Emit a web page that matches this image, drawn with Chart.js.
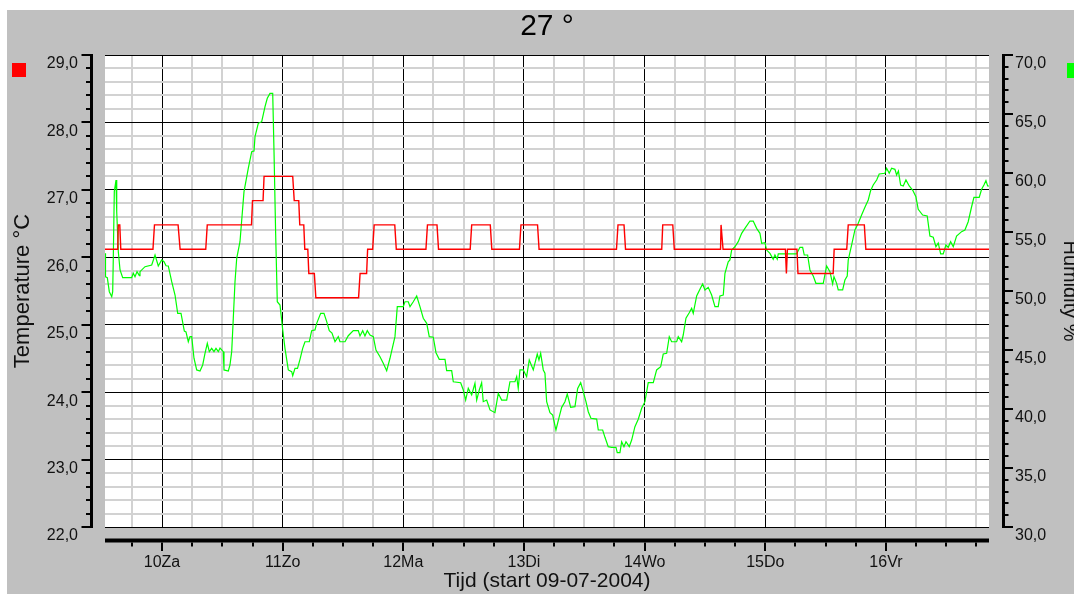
<!DOCTYPE html>
<html>
<head>
<meta charset="utf-8">
<title>27 °</title>
<script src="https://cdn.jsdelivr.net/npm/chart.js@4.4.0/dist/chart.umd.min.js"></script>
<style>
  html, body { margin: 0; padding: 0; background: #fff; }
  canvas { display: block; }
</style>
</head>
<body>
<canvas id="chart" width="1074" height="594"></canvas>
<script>
// time in hours counted from 09-07-2004 00:00
const dayLabels = ['10Za', '11Zo', '12Ma', '13Di', '14Wo', '15Do', '16Vr'];
const timeRange = [12.66, 188.5];
const tempRange = [22, 29];
const humRange = [30, 70];

// [hour, °C]
const temperature = [
  [12.66, 26.12], [15.2, 26.12], [15.3, 26.48], [15.6, 26.48], [15.8, 26.12], [22.2, 26.12], [22.5, 26.48],
  [27.2, 26.48], [27.6, 26.12], [32.7, 26.12], [33.0, 26.48], [41.8, 26.48], [42.0, 26.84], [44.1, 26.84],
  [44.3, 27.2], [50.0, 27.2], [50.3, 26.84], [51.2, 26.84], [51.4, 26.48], [52.2, 26.48], [52.4, 26.12],
  [53.0, 26.12], [53.2, 25.76], [54.3, 25.76], [54.6, 25.4], [63.1, 25.4], [63.4, 25.76], [64.7, 25.76],
  [64.9, 26.12], [65.9, 26.12], [66.2, 26.48], [70.3, 26.48], [70.6, 26.12], [76.5, 26.12], [76.8, 26.48],
  [78.7, 26.48], [79.0, 26.12], [85.3, 26.12], [85.6, 26.48], [89.3, 26.48], [89.6, 26.12], [95.1, 26.12],
  [95.4, 26.48], [98.7, 26.48], [99.0, 26.12], [114.4, 26.12], [114.7, 26.48], [115.9, 26.48], [116.2, 26.12],
  [123.4, 26.12], [123.6, 26.48], [125.6, 26.48], [125.9, 26.12], [135.1, 26.12], [135.2, 26.48], [135.6, 26.12],
  [148.0, 26.12], [148.2, 25.76], [148.4, 26.12], [150.3, 26.12], [150.5, 25.76], [157.5, 25.76], [157.7, 26.12],
  [160.2, 26.12], [160.5, 26.48], [163.7, 26.48], [164.0, 26.12], [188.5, 26.12]
];

// [hour, %]
const humidity = [
  [12.66, 53.19], [12.76, 51.21], [13.12, 51.13], [13.52, 49.94], [14.00, 49.52], [14.19, 49.94], [14.31, 52.77],
  [14.51, 58.42], [14.85, 59.41], [14.99, 56.72], [15.31, 53.33], [15.65, 51.78], [16.18, 51.13], [17.97, 51.13],
  [18.29, 51.50], [18.63, 51.21], [19.03, 51.64], [19.49, 51.30], [19.62, 51.64], [20.62, 52.06], [21.95, 52.20],
  [22.61, 53.05], [23.26, 52.12], [23.94, 52.63], [24.40, 52.48], [24.80, 52.14], [25.25, 52.12], [25.93, 50.79],
  [26.59, 49.66], [27.12, 48.11], [27.78, 48.11], [28.44, 46.61], [28.77, 46.53], [29.23, 45.70], [29.57, 46.13],
  [29.91, 46.13], [30.36, 44.30], [30.90, 43.31], [31.56, 43.22], [32.09, 43.73], [32.55, 44.72], [33.01, 45.57],
  [33.41, 44.86], [33.88, 45.14], [34.34, 44.86], [34.74, 45.14], [35.20, 44.86], [35.54, 45.17], [36.19, 44.86],
  [36.33, 43.31], [37.19, 43.22], [37.52, 43.73], [37.86, 44.86], [38.18, 47.69], [38.52, 50.79], [38.86, 52.77],
  [39.51, 54.18], [40.31, 58.42], [41.16, 60.40], [41.84, 61.81], [42.30, 61.86], [42.50, 63.08], [43.15, 64.21],
  [43.83, 64.35], [44.49, 65.62], [44.94, 66.33], [45.48, 66.75], [46.02, 66.75], [46.28, 61.81], [46.61, 54.75],
  [46.93, 49.09], [47.47, 48.81], [48.01, 46.70], [48.46, 45.14], [49.12, 43.31], [49.80, 43.16], [50.00, 42.82],
  [50.45, 43.45], [50.95, 43.45], [51.45, 44.21], [51.98, 45.14], [52.44, 45.70], [53.30, 45.70], [53.77, 46.64],
  [54.43, 46.70], [54.77, 47.26], [55.56, 48.11], [56.22, 48.11], [56.76, 47.40], [57.27, 46.64], [57.81, 46.44],
  [58.41, 45.70], [59.06, 46.13], [59.40, 45.70], [60.40, 45.70], [61.05, 46.21], [62.05, 46.64], [63.04, 46.64],
  [63.38, 46.19], [63.92, 46.64], [64.37, 46.19], [64.83, 46.64], [65.37, 46.27], [66.03, 46.13], [66.56, 45.00],
  [67.36, 44.43], [68.01, 43.87], [68.69, 43.25], [69.35, 44.30], [70.34, 46.13], [70.80, 48.67], [71.99, 48.67],
  [72.33, 49.09], [72.99, 49.09], [73.33, 48.67], [73.98, 49.09], [74.66, 49.58], [75.31, 48.67], [75.97, 47.69],
  [76.65, 47.26], [77.16, 46.13], [77.96, 46.08], [78.50, 44.77], [79.15, 44.21], [80.29, 44.21], [80.62, 43.25],
  [81.62, 43.25], [81.94, 42.31], [83.41, 42.23], [83.93, 41.61], [84.40, 40.76], [84.92, 41.75], [85.60, 41.19],
  [86.25, 42.18], [86.59, 40.76], [87.11, 41.61], [87.58, 42.23], [87.90, 40.62], [88.58, 40.76], [89.24, 39.92],
  [90.23, 39.69], [90.89, 41.33], [91.56, 40.76], [92.56, 40.76], [93.21, 42.31], [94.21, 42.31], [94.55, 42.74],
  [94.86, 41.75], [95.20, 43.31], [95.86, 43.31], [96.53, 42.74], [97.05, 44.15], [97.85, 43.31], [98.64, 44.66],
  [98.98, 44.15], [99.32, 44.72], [99.84, 43.31], [100.17, 43.03], [100.51, 40.62], [101.17, 39.69], [101.71, 39.49],
  [102.36, 38.22], [103.02, 39.35], [103.50, 40.14], [104.15, 40.62], [104.61, 41.27], [105.29, 40.14], [106.14, 40.20],
  [106.68, 41.75], [107.28, 42.23], [107.79, 41.47], [108.33, 40.62], [108.79, 39.77], [109.32, 39.21], [110.46, 39.15],
  [110.78, 38.22], [111.65, 38.22], [112.11, 37.60], [112.76, 36.81], [113.44, 36.75], [114.30, 36.75], [114.55, 36.30],
  [115.09, 36.30], [115.43, 37.23], [115.89, 36.81], [116.29, 37.23], [116.94, 36.81], [117.42, 37.37], [118.07, 38.50],
  [118.73, 39.13], [119.41, 40.06], [120.06, 40.62], [120.72, 42.23], [121.72, 42.23], [122.39, 43.31], [123.19, 43.58],
  [123.70, 44.66], [124.38, 44.72], [124.90, 46.13], [125.37, 45.70], [126.37, 45.70], [126.69, 46.13], [127.36, 45.70],
  [127.68, 46.27], [128.22, 47.69], [128.87, 48.16], [129.35, 48.53], [129.67, 48.11], [130.35, 49.58], [131.00, 50.14],
  [131.54, 50.59], [132.00, 50.09], [132.65, 50.31], [133.33, 49.66], [133.99, 48.67], [134.64, 48.67], [134.98, 49.58],
  [135.64, 49.66], [135.98, 51.50], [136.63, 52.48], [136.97, 52.63], [137.31, 53.47], [137.96, 53.75], [138.62, 54.18],
  [139.30, 54.89], [139.95, 55.31], [140.95, 55.93], [141.60, 55.93], [142.28, 55.31], [142.94, 54.89], [143.28, 54.04],
  [143.93, 54.09], [144.27, 53.47], [144.93, 53.19], [145.58, 52.69], [145.92, 53.05], [146.38, 52.69], [146.58, 53.14],
  [150.23, 53.14], [150.89, 53.70], [151.43, 53.70], [151.75, 53.05], [152.42, 53.05], [152.88, 51.78], [153.54, 51.27],
  [154.07, 50.65], [155.53, 50.65], [156.20, 52.12], [156.86, 51.64], [157.40, 50.59], [157.66, 51.21], [158.19, 50.65],
  [158.51, 50.09], [159.39, 50.09], [159.84, 50.93], [160.30, 51.27], [160.50, 52.63], [161.18, 53.90], [161.83, 55.17],
  [162.49, 55.74], [163.16, 56.44], [163.82, 57.09], [164.48, 57.71], [164.95, 58.50], [165.47, 58.98], [166.15, 59.41],
  [166.66, 59.92], [167.80, 59.98], [168.14, 60.40], [168.65, 59.98], [169.13, 60.40], [169.79, 60.31], [170.12, 59.83],
  [170.48, 60.17], [170.92, 58.98], [171.44, 58.90], [171.98, 59.41], [172.63, 58.90], [173.31, 58.56], [173.96, 57.99],
  [174.42, 56.92], [175.30, 56.44], [176.21, 56.36], [176.75, 54.66], [177.41, 54.55], [177.94, 53.75], [178.40, 54.07],
  [178.88, 53.14], [179.40, 53.14], [179.93, 53.90], [180.39, 53.70], [180.87, 54.18], [181.39, 53.75], [182.05, 54.66],
  [183.05, 55.03], [183.71, 55.17], [184.36, 55.87], [185.04, 57.14], [185.50, 57.94], [186.55, 57.94], [187.03, 58.62],
  [187.49, 58.98], [187.89, 59.35], [188.23, 58.90], [188.50, 58.90]
];

const isWhole = (v, step) => Math.abs(v / step - Math.round(v / step)) < 1e-6;
const commaLabel = v => v.toFixed(1).replace('.', ',');
const textColor = '#111';
const minorGrid = '#d2d2d2';

Chart.defaults.font.family = "'Liberation Sans', Arial, sans-serif";

// grey frame, white plot area, offset axis bars with tick marks, legend squares
const frame = {
  id: 'frame',
  beforeDraw(chart) {
    const { ctx, chartArea: a } = chart;
    ctx.save();
    ctx.fillStyle = '#fff';
    ctx.fillRect(0, 0, chart.width, chart.height);
    ctx.fillStyle = '#c0c0c0';
    ctx.fillRect(7, 10, chart.width - 7, chart.height - 10);
    ctx.fillStyle = '#fff';
    ctx.fillRect(a.left, a.top, a.right - a.left, a.bottom - a.top);
    ctx.restore();
  },
  afterDraw(chart) {
    const { ctx, chartArea: a, scales } = chart;
    const seg = (x1, y1, x2, y2, w) => {
      ctx.lineWidth = w;
      ctx.beginPath();
      ctx.moveTo(x1, y1);
      ctx.lineTo(x2, y2);
      ctx.stroke();
    };
    ctx.save();
    ctx.strokeStyle = '#000';

    const lx = a.left - 13.5;
    seg(lx, a.top - 1, lx, a.bottom + 1, 3);
    scales.yT.ticks.forEach(t => {
      const py = Math.round(scales.yT.getPixelForValue(t.value));
      seg(isWhole(t.value, 1) ? lx - 10 : lx - 5.5, py, lx + 1.5, py, 2);
    });

    const rx = a.right + 14.5;
    seg(rx, a.top - 1, rx, a.bottom + 1, 3);
    scales.yH.ticks.forEach(t => {
      const py = Math.round(scales.yH.getPixelForValue(t.value));
      seg(rx - 1.5, py, isWhole(t.value, 5) ? rx + 9.5 : rx + 5, py, 2);
    });

    const by = a.bottom + 13.5;
    seg(a.left, by, a.right, by, 4);
    scales.x.ticks.forEach(t => {
      const px = Math.round(scales.x.getPixelForValue(t.value));
      seg(px, by + 2, px, isWhole(t.value, 24) ? by + 10.5 : by + 6, 2);
    });

    const sets = chart.data.datasets;
    ctx.fillStyle = sets[0].borderColor;
    ctx.fillRect(12, 63, 14, 14);
    ctx.fillStyle = sets[1].borderColor;
    ctx.fillRect(1067, 63, 14, 15);
    ctx.restore();
  }
};

new Chart(document.getElementById('chart'), {
  type: 'line',
  data: {
    datasets: [
      {
        label: 'Temperature °C',
        data: temperature.map(([x, y]) => ({ x, y })),
        yAxisID: 'yT',
        borderColor: '#ff0000',
        borderWidth: 1.4,
        pointRadius: 0,
        tension: 0,
        fill: false
      },
      {
        label: 'Humidity %',
        data: humidity.map(([x, y]) => ({ x, y })),
        yAxisID: 'yH',
        borderColor: '#00ff00',
        borderWidth: 1.2,
        pointRadius: 0,
        tension: 0,
        fill: false
      }
    ]
  },
  options: {
    responsive: false,
    animation: false,
    events: [],
    layout: { padding: 0 },
    plugins: {
      legend: { display: false },
      tooltip: { enabled: false },
      title: {
        display: true,
        text: '27 °',
        fullSize: false,
        color: '#000',
        font: { size: 30, weight: 'normal' },
        padding: { top: 9, bottom: 10 }
      }
    },
    scales: {
      x: {
        type: 'linear',
        min: timeRange[0],
        max: timeRange[1],
        bounds: 'data',
        afterBuildTicks(scale) {
          const ticks = [];
          for (let h = Math.ceil(timeRange[0] / 6) * 6; h < timeRange[1]; h += 6) ticks.push({ value: h });
          scale.ticks = ticks;
        },
        afterFit(scale) { scale.height = 67; },
        border: { display: false },
        grid: {
          drawTicks: false,
          lineWidth: c => isWhole(c.tick.value, 24) ? 1 : 2,
          color: c => isWhole(c.tick.value, 24) ? '#000' : minorGrid
        },
        ticks: {
          autoSkip: false,
          maxRotation: 0,
          padding: 26,
          color: textColor,
          font: { size: 16 },
          callback: v => isWhole(v, 24) ? dayLabels[Math.round(v / 24) - 1] : ''
        },
        title: {
          display: true,
          text: 'Tijd (start 09-07-2004)',
          color: textColor,
          font: { size: 21 },
          padding: { top: 0, bottom: 0 }
        }
      },
      yT: {
        type: 'linear',
        position: 'left',
        min: tempRange[0],
        max: tempRange[1],
        bounds: 'data',
        afterBuildTicks(scale) {
          const ticks = [];
          for (let v = tempRange[0] * 10; v <= tempRange[1] * 10; v += 2) ticks.push({ value: v / 10 });
          scale.ticks = ticks;
        },
        afterFit(scale) { scale.width = 105; },
        border: { display: false },
        grid: {
          drawTicks: false,
          lineWidth: c => isWhole(c.tick.value, 1) ? 1 : 2,
          color: c => isWhole(c.tick.value, 1) ? '#000' : minorGrid
        },
        ticks: {
          autoSkip: false,
          padding: 27,
          labelOffset: 9,
          color: textColor,
          font: { size: 16 },
          callback: v => isWhole(v, 1) ? commaLabel(v) : ''
        },
        title: {
          display: true,
          text: 'Temperature °C',
          color: textColor,
          font: { size: 22 },
          padding: { top: 10, bottom: 0 }
        }
      },
      yH: {
        type: 'linear',
        position: 'right',
        min: humRange[0],
        max: humRange[1],
        bounds: 'data',
        afterBuildTicks(scale) {
          const ticks = [];
          for (let v = humRange[0]; v <= humRange[1]; v += 1) ticks.push({ value: v });
          scale.ticks = ticks;
        },
        afterFit(scale) { scale.width = 85; },
        border: { display: false },
        grid: { drawOnChartArea: false, drawTicks: false },
        ticks: {
          autoSkip: false,
          padding: 26,
          labelOffset: 9,
          color: textColor,
          font: { size: 16 },
          callback: v => isWhole(v, 5) ? commaLabel(v) : ''
        },
        title: {
          display: true,
          text: 'Humidity %',
          color: textColor,
          font: { size: 20 },
          padding: { top: -8, bottom: 0 }
        }
      }
    }
  },
  plugins: [frame]
});
</script>
</body>
</html>
